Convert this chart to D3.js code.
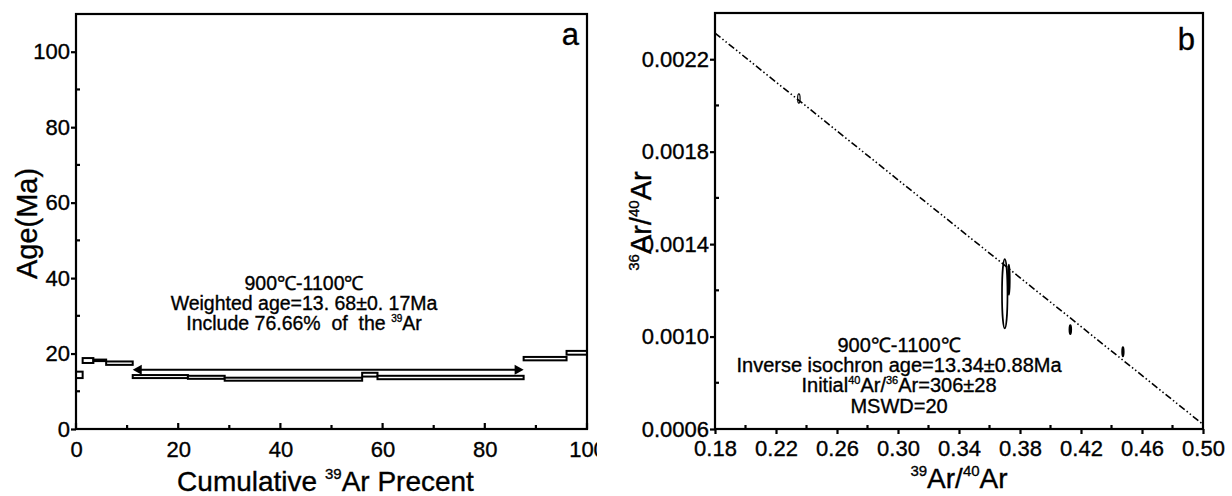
<!DOCTYPE html>
<html><head><meta charset="utf-8">
<script src="https://cdn.jsdelivr.net/npm/d3@7"></script>
<style>body{margin:0;background:#fff}svg{display:block}text{font-family:"Liberation Sans",Arial,sans-serif;fill:#000;stroke:#000;stroke-width:0.35px}</style>
</head><body><svg id="c" width="1232" height="496"></svg>
<script>
// ---- Panel a: age spectrum ----
const stepStart = [0, 1.3, 3.4, 5.9, 11.1, 21.9, 29.1, 56.0, 59.0, 87.6, 96.0];
const stepEnd   = [1.3, 3.4, 5.9, 11.1, 21.9, 29.1, 56.0, 59.0, 87.6, 96.0, 100];
const stepAge   = [14.35, 18.15, 18.2, 17.45, 13.9, 13.7, 13.2, 14.4, 13.65, 18.65, 20.2];
const stepErr   = [0.85, 0.65, 0.2, 0.45, 0.4, 0.4, 0.4, 0.5, 0.45, 0.45, 0.5];
const plateau   = [11.1, 87.6, 15.7];
const aXTicks = [0, 20, 40, 60, 80, 100];
const aYTicks = [0, 20, 40, 60, 80, 100];
const aText = ["900℃-1100℃", "Weighted age=13. 68±0. 17Ma", "Include 76.66%  of  the "];
// ---- Panel b: inverse isochron ----
const ptX  = [0.235, 0.370, 0.3727, 0.413, 0.4475];
const ptY  = [0.00203, 0.001185, 0.001246, 0.00103, 0.000934];
const ptSX = [0.0008, 0.0018, 0.0006, 0.0006, 0.0005];
const ptSY = [0.00002, 0.00015, 0.000065, 0.00002, 0.00002];
const lineX = [0.18, 0.50];
const lineY = [0.002313, 0.00062];
const bXTicks = [0.18, 0.22, 0.26, 0.30, 0.34, 0.38, 0.42, 0.46, 0.50];
const bYTicks = [0.0006, 0.0010, 0.0014, 0.0018, 0.0022];

const svg = d3.select("#c");
const FF = "'Liberation Sans',Arial,sans-serif";
const LW = 2.2;

// ===== Panel a =====
const A = {l:76, r:587, t:14, b:429};
const xa = d3.scaleLinear().domain([0,100]).range([A.l, A.r]);
const ya = d3.scaleLinear().domain([0,110]).range([A.b, A.t]);
const defs = svg.append("defs");
defs.append("clipPath").attr("id","clipA").append("rect")
  .attr("x",0).attr("y",0).attr("width",597).attr("height",496);
const ga = svg.append("g").attr("clip-path","url(#clipA)");

// steps
stepAge.forEach((a,i)=>{
  ga.append("rect")
    .attr("x", xa(stepStart[i])).attr("width", xa(stepEnd[i])-xa(stepStart[i]))
    .attr("y", ya(a+stepErr[i])).attr("height", ya(a-stepErr[i])-ya(a+stepErr[i]))
    .attr("fill", stepErr[i] < 0.3 ? "#444" : "#fff").attr("stroke","#000").attr("stroke-width",2);
});
// plateau arrow
const ay = ya(plateau[2]);
ga.append("line").attr("x1",xa(plateau[0])+6).attr("x2",xa(plateau[1])-6)
  .attr("y1",ay).attr("y2",ay).attr("stroke","#000").attr("stroke-width",2.2);
ga.append("path").attr("d",`M${xa(plateau[0])},${ay} l9,-5 l0,10 z`).attr("fill","#000");
ga.append("path").attr("d",`M${xa(plateau[1])},${ay} l-9,-5 l0,10 z`).attr("fill","#000");

// frame
ga.append("rect").attr("x",A.l).attr("y",A.t).attr("width",A.r-A.l).attr("height",A.b-A.t)
  .attr("fill","none").attr("stroke","#000").attr("stroke-width",LW);
// x axis
const axG = ga.append("g").attr("transform",`translate(0,${A.b})`)
  .call(d3.axisBottom(xa).tickValues(aXTicks).tickSize(0).tickPadding(12).tickFormat(d3.format("d")));
axG.select(".domain").remove();
axG.selectAll("text").attr("font-size",22).style("font-family",FF);
d3.range(0,101,10).forEach(v=>{
  ga.append("line").attr("x1",xa(v)).attr("x2",xa(v)).attr("y1",A.b).attr("y2",A.b-(v%20===0?6:4))
    .attr("stroke","#000").attr("stroke-width",LW);
});
// y axis
const ayG = ga.append("g").attr("transform",`translate(${A.l},0)`)
  .call(d3.axisLeft(ya).tickValues(aYTicks).tickSize(5).tickPadding(1).tickFormat(d3.format("d")));
ayG.select(".domain").remove();
ayG.selectAll("line").attr("stroke","#000").attr("stroke-width",LW);
ayG.selectAll("text").attr("font-size",22).style("font-family",FF);
d3.range(10,101,20).forEach(v=>{
  ga.append("line").attr("x1",A.l).attr("x2",A.l+4).attr("y1",ya(v)).attr("y2",ya(v))
    .attr("stroke","#000").attr("stroke-width",LW);
});
// titles
ga.append("text").attr("transform",`translate(37,${(A.t+A.b)/2+2}) rotate(-90)`)
  .attr("text-anchor","middle").attr("font-size",29).text("Age(Ma)");
const xt = ga.append("text").attr("x",(A.l+A.r)/2-6).attr("y",491).attr("text-anchor","middle").attr("font-size",28);
xt.append("tspan").text("Cumulative ");
xt.append("tspan").attr("font-size",15).attr("dy",-12).text("39");
xt.append("tspan").attr("dy",12).text("Ar Precent");
ga.append("text").attr("x",579).attr("y",45).attr("text-anchor","end").attr("font-size",31).text("a");
// annotation
const cxA = 304;
[0,1,2].forEach(i=>{
  const t = ga.append("text").attr("x",cxA).attr("y",290+20*i).attr("text-anchor","middle")
    .attr("font-size",19.5).style("white-space","pre");
  t.append("tspan").text(aText[i]);
  if(i===2){ t.append("tspan").attr("font-size",10).attr("dy",-8).text("39"); t.append("tspan").attr("dy",8).text("Ar"); }
});

// ===== Panel b =====
const B = {l:715, r:1203, t:13, b:429};
const xb = d3.scaleLinear().domain([0.18,0.50]).range([B.l,B.r]);
const yb = d3.scaleLinear().domain([0.0006,0.0024]).range([B.b,B.t]);
const gb = svg.append("g");
defs.append("clipPath").attr("id","clipB").append("rect")
  .attr("x",B.l).attr("y",B.t).attr("width",B.r-B.l).attr("height",B.b-B.t);
// isochron line
gb.append("line").attr("clip-path","url(#clipB)")
  .attr("x1",xb(lineX[0])).attr("y1",yb(lineY[0])).attr("x2",xb(lineX[1])).attr("y2",yb(lineY[1]))
  .attr("stroke","#000").attr("stroke-width",1.6).attr("stroke-dasharray","7,2.5,1.5,2.5,1.5,2.5");
// error ellipses
ptX.forEach((x,i)=>{
  gb.append("ellipse").attr("cx",xb(x)).attr("cy",yb(ptY[i]))
    .attr("rx",Math.max(0.8, xb(x+ptSX[i])-xb(x))).attr("ry",yb(ptY[i])-yb(ptY[i]+ptSY[i]))
    .attr("fill", (i===1||i===0) ? "none" : "#000").attr("stroke","#000").attr("stroke-width",i===0?1.2:1.7);
});
// frame
gb.append("rect").attr("x",B.l).attr("y",B.t).attr("width",B.r-B.l).attr("height",B.b-B.t)
  .attr("fill","none").attr("stroke","#000").attr("stroke-width",LW);
const bxG = gb.append("g").attr("transform",`translate(0,${B.b})`)
  .call(d3.axisBottom(xb).tickValues(bXTicks).tickSize(5).tickPadding(6).tickFormat(d3.format(".2f")));
bxG.select(".domain").remove();
bxG.selectAll("line").attr("stroke","#000").attr("stroke-width",LW);
bxG.selectAll("text").attr("font-size",22).style("font-family",FF);
d3.range(0,8).map(i=>0.20+0.04*i).forEach(v=>{
  gb.append("line").attr("x1",xb(v)).attr("x2",xb(v)).attr("y1",B.b).attr("y2",B.b-4)
    .attr("stroke","#000").attr("stroke-width",LW);
});
const byG = gb.append("g").attr("transform",`translate(${B.l},0)`)
  .call(d3.axisLeft(yb).tickValues(bYTicks).tickSize(5).tickPadding(1).tickFormat(d3.format(".4f")));
byG.select(".domain").remove();
byG.selectAll("line").attr("stroke","#000").attr("stroke-width",LW);
byG.selectAll("text").attr("font-size",22).style("font-family",FF);
[0.0008,0.0012,0.0016,0.0020].forEach(v=>{
  gb.append("line").attr("x1",B.l).attr("x2",B.l+4).attr("y1",yb(v)).attr("y2",yb(v))
    .attr("stroke","#000").attr("stroke-width",LW);
});
// titles
const yt = gb.append("text").attr("transform",`translate(651,${(B.t+B.b)/2}) rotate(-90)`)
  .attr("text-anchor","middle").attr("font-size",29);
yt.append("tspan").attr("font-size",15).attr("dy",-12).text("36");
yt.append("tspan").attr("dy",12).text("Ar/");
yt.append("tspan").attr("font-size",15).attr("dy",-12).text("40");
yt.append("tspan").attr("dy",12).text("Ar");
const bt = gb.append("text").attr("x",(B.l+B.r)/2).attr("y",488).attr("text-anchor","middle").attr("font-size",28);
bt.append("tspan").attr("font-size",15).attr("dy",-12).text("39");
bt.append("tspan").attr("dy",12).text("Ar/");
bt.append("tspan").attr("font-size",15).attr("dy",-12).text("40");
bt.append("tspan").attr("dy",12).text("Ar");
gb.append("text").attr("x",1195).attr("y",50).attr("text-anchor","end").attr("font-size",31).text("b");
// annotation
const cxB = 899;
gb.append("text").attr("x",cxB).attr("y",352).attr("text-anchor","middle").attr("font-size",20).text("900℃-1100℃");
gb.append("text").attr("x",cxB).attr("y",372).attr("text-anchor","middle").attr("font-size",20).text("Inverse isochron age=13.34±0.88Ma");
const l3 = gb.append("text").attr("x",cxB).attr("y",392).attr("text-anchor","middle").attr("font-size",20);
l3.append("tspan").text("Initial");
l3.append("tspan").attr("font-size",11).attr("dy",-8).text("40");
l3.append("tspan").attr("dy",8).text("Ar/");
l3.append("tspan").attr("font-size",11).attr("dy",-8).text("36");
l3.append("tspan").attr("dy",8).text("Ar=306±28");
gb.append("text").attr("x",cxB).attr("y",413).attr("text-anchor","middle").attr("font-size",20).text("MSWD=20");
</script></body></html>
